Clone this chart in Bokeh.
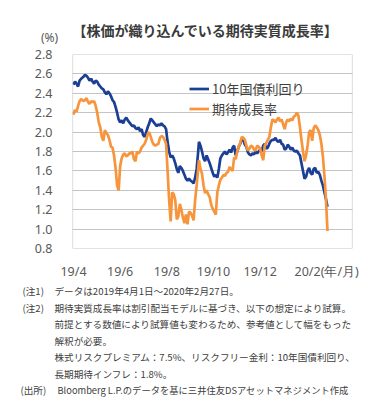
from bokeh.plotting import figure
from bokeh.layouts import column
from bokeh.models import (Range1d, FixedTicker, NumeralTickFormatter,
                          Legend, LegendItem, ColumnDataSource, BoxAnnotation)
from bokeh.core.properties import value
from bokeh.embed import file_html
from bokeh.resources import INLINE

# ---------------- data (days since 2019-04-01) ----------------
days = [0, 2, 4, 6, 8, 10, 13, 15, 17, 19, 21, 23, 25, 27, 29, 31, 33, 35, 37, 39,
        41, 43, 45, 47, 49, 51, 53, 55, 57, 59, 61, 63, 65, 67, 69, 71, 73, 75, 77, 79,
        81, 83, 85, 87, 89, 91, 93, 95, 97, 99, 101, 103, 105, 107, 109, 111, 113, 115, 117, 119,
        121, 123, 125, 127, 129, 131, 133, 135, 137, 139, 141, 143, 145, 147, 149, 151, 153, 155, 157, 159,
        161, 163, 164, 166, 168, 170, 172, 174, 176, 178, 180, 182, 184, 186, 188, 190, 192, 194, 196, 198,
        200, 202, 204, 206, 208, 210, 212, 214, 216, 218, 220, 222, 224, 226, 228, 230, 232, 234, 236, 238,
        240, 242, 244, 246, 248, 250, 252, 254, 256, 258, 260, 262, 264, 266, 268, 270, 272, 274, 276, 278,
        280, 282, 284, 286, 288, 290, 292, 294, 296, 298, 300, 302, 304, 306, 308, 310, 312, 314, 316, 318,
        320, 322, 324, 326, 328, 330, 332]

yield_10y = [2.49, 2.52, 2.50, 2.47, 2.53, 2.55, 2.57, 2.59, 2.58, 2.56, 2.53, 2.55, 2.52, 2.50, 2.53, 2.52, 2.49, 2.47, 2.45, 2.44,
             2.41, 2.39, 2.42, 2.40, 2.37, 2.33, 2.31, 2.26, 2.20, 2.13, 2.10, 2.12, 2.09, 2.13, 2.15, 2.12, 2.10, 2.08, 2.06, 2.07,
             2.04, 2.03, 2.05, 2.01, 2.03, 1.97, 1.95, 2.00, 2.05, 2.09, 2.14, 2.12, 2.10, 2.08, 2.06, 2.08, 2.07, 2.09, 2.07, 2.06,
             2.03, 1.90, 1.80, 1.74, 1.76, 1.73, 1.68, 1.62, 1.58, 1.65, 1.63, 1.60, 1.56, 1.52, 1.50, 1.52, 1.50, 1.49, 1.47, 1.53,
             1.62, 1.80, 1.90, 1.86, 1.80, 1.73, 1.70, 1.76, 1.72, 1.68, 1.63, 1.58, 1.54, 1.56, 1.53, 1.62, 1.73, 1.76, 1.78, 1.80,
             1.77, 1.79, 1.82, 1.79, 1.84, 1.86, 1.76, 1.80, 1.85, 1.88, 1.93, 1.92, 1.87, 1.85, 1.79, 1.77, 1.76, 1.78, 1.77, 1.80,
             1.78, 1.80, 1.82, 1.80, 1.86, 1.88, 1.83, 1.84, 1.88, 1.91, 1.92, 1.92, 1.94, 1.91, 1.90, 1.92, 1.88, 1.87, 1.82, 1.83,
             1.87, 1.85, 1.82, 1.84, 1.81, 1.80, 1.81, 1.78, 1.76, 1.68, 1.60, 1.52, 1.54, 1.60, 1.63, 1.58, 1.56, 1.62, 1.63, 1.58,
             1.59, 1.56, 1.50, 1.45, 1.38, 1.31, 1.23]

expected_growth = [2.18, 2.23, 2.21, 2.27, 2.32, 2.34, 2.32, 2.33, 2.35, 2.31, 2.29, 2.32, 2.31, 2.32, 2.27, 2.20, 2.10, 2.05, 1.95, 1.91,
                   2.02, 1.99, 1.97, 1.92, 1.85, 1.84, 1.76, 1.63, 1.45, 1.40, 1.65, 1.73, 1.77, 1.78, 1.75, 1.76, 1.78, 1.78, 1.80, 1.72,
                   1.70, 1.80, 1.78, 1.80, 1.84, 1.86, 1.88, 1.92, 1.98, 2.00, 1.95, 1.90, 1.87, 1.86, 1.87, 1.88, 1.94, 1.96, 1.95, 1.92,
                   1.88, 1.60, 1.30, 1.08, 1.38, 1.36, 1.30, 1.10, 1.13, 1.26, 1.20, 1.12, 1.06, 1.15, 1.05, 1.18, 1.17, 1.14, 1.09, 1.30,
                   1.45, 1.62, 1.71, 1.62, 1.57, 1.45, 1.37, 1.40, 1.36, 1.33, 1.25, 1.21, 1.18, 1.15, 1.38, 1.45, 1.51, 1.53, 1.56, 1.55,
                   1.58, 1.59, 1.64, 1.62, 1.60, 1.74, 1.72, 1.80, 1.85, 1.89, 1.95, 1.94, 1.92, 1.86, 1.81, 1.83, 1.86, 1.85, 1.82, 1.81,
                   1.86, 1.85, 1.83, 1.76, 1.71, 1.86, 1.89, 1.92, 1.95, 2.05, 2.13, 2.12, 2.10, 2.13, 2.15, 2.11, 2.13, 2.08, 2.03, 2.10,
                   2.13, 2.11, 2.14, 2.12, 2.16, 2.17, 2.20, 2.17, 2.05, 1.92, 1.80, 1.70, 1.76, 1.86, 2.00, 2.02, 1.91, 2.04, 2.07, 2.05,
                   2.02, 1.97, 1.88, 1.75, 1.55, 1.31, 0.98]

series_names = ["10年国債利回り", "期待成長率"]
tick_days = [0, 61, 122, 183, 244, 306]
tick_labels = ["19/4", "19/6", "19/8", "19/10", "19/12", "20/2"]
unit_day = 348
unit_x_label = "(年/月)"
y_ticks = [0.8, 1.0, 1.2, 1.4, 1.6, 1.8, 2.0, 2.2, 2.4, 2.6, 2.8]
y_unit = "(%)"

title_text = "【株価が織り込んでいる期待実質成長率】"
note_heads = ["(注1)", "(注2)", "", "", "", "", "(出所)"]
note_bodies = [
    "データは2019年4月1日～2020年2月27日。",
    "期待実質成長率は割引配当モデルに基づき、以下の想定により試算。",
    "前提とする数値により試算値も変わるため、参考値として幅をもった",
    "解釈が必要。",
    "株式リスクプレミアム：7.5%、リスクフリー金利：10年国債利回り、",
    "長期期待インフレ：1.8%。",
    "Bloomberg L.P.のデータを基に三井住友DSアセットマネジメント作成",
]

JP = "Noto Sans CJK JP"
TICK_COLOR = "#595959"
TEXT_COLOR = "#404040"
W = 359

# ---------------- header (title + unit) ----------------
HH = 45
head = figure(width=W, height=HH, output_backend="svg", toolbar_location=None,
              x_range=Range1d(0, W), y_range=Range1d(HH, 0),
              x_axis_type=None, y_axis_type=None, min_border=0, frame_align=False)
head.grid.visible = False
head.outline_line_color = None
head.text(x=[72], y=[29], text=[title_text], text_align="left", text_baseline="middle",
          text_font=value(JP), text_font_size=value("14px"), text_font_style="bold",
          text_color="#3a3a3a")
head.text(x=[49], y=[36.5], text=[y_unit], text_align="center", text_baseline="middle",
          text_font=value("Noto Sans"), text_font_size=value("12px"), text_color=TICK_COLOR)

# ---------------- main chart ----------------
X0, X1 = -1.3, 364.7
Y0, Y1 = 0.8, 2.8
MT, FH, MB = 9, 199, 29
p = figure(width=W, height=MT + FH + MB, output_backend="svg", toolbar_location=None,
           x_range=Range1d(X0, X1), y_range=Range1d(Y0, Y1), frame_align=False,
           min_border_left=72, min_border_right=7, min_border_top=MT, min_border_bottom=MB)
p.background_fill_color = "white"
p.border_fill_color = "white"
p.outline_line_color = None

p.xaxis.ticker = FixedTicker(ticks=tick_days + [unit_day])
overrides = {d: l for d, l in zip(tick_days, tick_labels)}
overrides[unit_day] = unit_x_label
p.xaxis.major_label_overrides = overrides
p.yaxis.ticker = FixedTicker(ticks=y_ticks)
p.yaxis.formatter = NumeralTickFormatter(format="0.0")
for ax in (p.xaxis, p.yaxis):
    ax.axis_line_color = None
    ax.major_tick_line_color = None
    ax.minor_tick_line_color = None
    ax.major_label_text_font = "Noto Sans"
    ax.major_label_text_font_size = "12.5px"
    ax.major_label_text_color = TICK_COLOR
p.xaxis.major_label_standoff = 8
p.yaxis.major_label_standoff = 14

p.xgrid.grid_line_color = None
p.ygrid.grid_line_color = "#c4c4c4"
p.ygrid.grid_line_width = 1

src = ColumnDataSource(dict(x=days, y1=yield_10y, y2=expected_growth))
r1 = p.line("x", "y1", source=src, line_color="#1b3f95", line_width=2.7)
r2 = p.line("x", "y2", source=src, line_color="#f7953d", line_width=2.7)

p.add_layout(BoxAnnotation(fill_alpha=0, line_color="#404040", line_width=1.2))

legend = Legend(items=[LegendItem(label=series_names[0], renderers=[r1]),
                       LegendItem(label=series_names[1], renderers=[r2])],
                location=(117, 130), padding=0, margin=0, spacing=1,
                glyph_width=20, glyph_height=17, label_height=17, label_standoff=3,
                background_fill_alpha=0, border_line_alpha=0,
                label_text_font=JP, label_text_font_size="13px",
                label_text_color=TEXT_COLOR)
p.add_layout(legend)

# ---------------- notes ----------------
NH = 398 - HH - (MT + FH + MB)
notes = figure(width=W, height=NH, output_backend="svg", toolbar_location=None,
               x_range=Range1d(0, W), y_range=Range1d(NH, 0),
               x_axis_type=None, y_axis_type=None, min_border=0, frame_align=False)
notes.grid.visible = False
notes.outline_line_color = None
row_y = [8.5 + 16.5 * i for i in range(len(note_bodies))]
head_x = [22 if h in ("(注1)", "(注2)") else 20 for h in note_heads]
body_x = [57 if h == "(出所)" else 54 for h in note_heads]
body_size = ["9.3px" if h == "(出所)" else "9.6px" for h in note_heads]
hy = [y for h, y in zip(note_heads, row_y) if h]
hx = [x for h, x in zip(note_heads, head_x) if h]
ht = [h for h in note_heads if h]
notes.text(x=hx, y=hy, text=ht, text_align="left", text_baseline="middle",
           text_font=value(JP), text_font_size=value("9.6px"), text_color=TEXT_COLOR)
nsrc = ColumnDataSource(dict(x=body_x, y=row_y, text=note_bodies, size=body_size))
notes.text(x="x", y="y", text="text", source=nsrc, text_align="left", text_baseline="middle",
           text_font=value(JP), text_font_size="size", text_color=TEXT_COLOR)

layout = column(head, p, notes, spacing=0)
open("out.html", "w").write(file_html(layout, INLINE))
